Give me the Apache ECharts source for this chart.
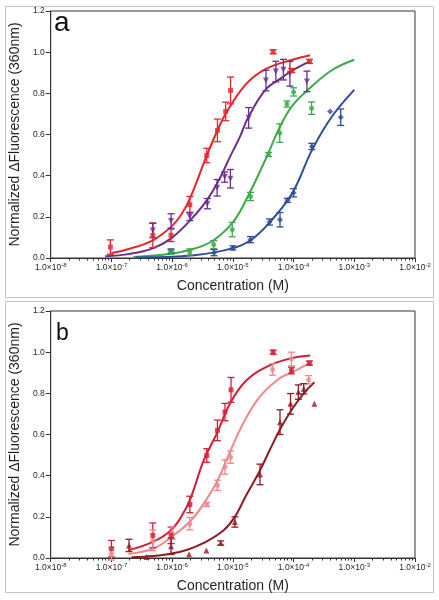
<!DOCTYPE html>
<html><head><meta charset="utf-8">
<script src="https://cdn.jsdelivr.net/npm/echarts@6/dist/echarts.min.js"></script>
<style>html,body{margin:0;padding:0;background:#fff}#c{width:439px;height:600px}</style>
</head><body><div id="c"></div>
<script>
// ---------- tick labels ----------
const xDecades = [1e-8, 1e-7, 1e-6, 1e-5, 1e-4, 1e-3, 1e-2];
const yTicks = [0, 0.2, 0.4, 0.6, 0.8, 1.0, 1.2];
const panelLabels = ['a', 'b'];
const xTitle = 'Concentration (M)';
const yTitle = 'Normalized \u0394Fluorescence (360nm)';

// ---------- panel a data ----------
const aRedX = [9.6e-8, 4.8e-7, 9.6e-7, 1.96e-6, 3.72e-6, 5.57e-6, 7.62e-6, 9.16e-6, 4.61e-5, 9.33e-5, 1.83e-4];
const aRedY = [0.053, 0.11, 0.11, 0.259, 0.498, 0.62, 0.712, 0.814, 1.002, 0.911, 0.955];
const aRedErr = [0.035, 0.06, 0.03, 0.04, 0.035, 0.055, 0.045, 0.065, 0.01, 0.01, 0.01];

const aPurpleX = [4.8e-7, 9.6e-7, 1.95e-6, 3.8e-6, 5.5e-6, 7.33e-6, 9.12e-6, 1.82e-5, 3.51e-5, 5.1e-5, 6.8e-5, 8.7e-5, 1.66e-4];
const aPurpleY = [0.134, 0.18, 0.202, 0.264, 0.341, 0.393, 0.385, 0.681, 0.862, 0.906, 0.915, 0.895, 0.858];
const aPurpleErr = [0.035, 0.035, 0.02, 0.025, 0.04, 0.025, 0.045, 0.05, 0.05, 0.05, 0.05, 0.06, 0.05];

const aGreenX = [9.6e-7, 1.95e-6, 4.84e-6, 9.77e-6, 1.95e-5, 3.87e-5, 5.92e-5, 7.76e-5, 1.0e-4, 1.98e-4];
const aGreenY = [0.029, 0.029, 0.065, 0.138, 0.299, 0.503, 0.607, 0.748, 0.807, 0.728];
const aGreenErr = [0.01, 0.015, 0.02, 0.035, 0.02, 0.01, 0.045, 0.015, 0.02, 0.03];

const aBlueX = [9.6e-7, 4.9e-6, 1.0e-5, 1.95e-5, 4.02e-5, 5.98e-5, 7.94e-5, 1.0e-4, 2.0e-4, 4.0e-4, 5.98e-4];
const aBlueY = [0.034, 0.026, 0.049, 0.089, 0.175, 0.186, 0.28, 0.317, 0.542, 0.712, 0.684];
const aBlueErr = [0.01, 0.015, 0.01, 0.015, 0.015, 0.035, 0.01, 0.02, 0.015, 0, 0.04];

const aRedFitX = [1.0e-7, 2.0e-7, 4.8e-7, 9.5e-7, 1.41e-6, 2.01e-6, 3.72e-6, 5.43e-6, 7.89e-6, 1.66e-5, 3.51e-5, 9.55e-5, 1.87e-4];
const aRedFitY = [0.024, 0.045, 0.086, 0.15, 0.21, 0.296, 0.498, 0.612, 0.709, 0.846, 0.919, 0.963, 0.985];
const aPurpleFitX = [7.9e-8, 2.0e-7, 4.8e-7, 9.5e-7, 2.01e-6, 3.72e-6, 6.17e-6, 8.91e-6, 1.3e-5, 1.77e-5, 3.51e-5, 6.31e-5, 9.55e-5, 1.77e-4];
const aPurpleFitY = [0.008, 0.02, 0.047, 0.094, 0.185, 0.28, 0.39, 0.49, 0.587, 0.68, 0.82, 0.875, 0.911, 0.953];
const aGreenFitX = [2.3e-7, 9.5e-7, 2.29e-6, 4.81e-6, 1.01e-5, 1.77e-5, 3.72e-5, 5.75e-5, 9.55e-5, 1.77e-4, 4.2e-4, 1.0e-3];
const aGreenFitY = [0.005, 0.021, 0.045, 0.086, 0.175, 0.3, 0.5, 0.628, 0.74, 0.82, 0.911, 0.963];
const aBlueFitX = [2.5e-7, 2.29e-6, 1.01e-5, 1.95e-5, 3.98e-5, 9.55e-5, 2.0e-4, 4.2e-4, 1.0e-3];
const aBlueFitY = [0.002, 0.013, 0.048, 0.086, 0.171, 0.316, 0.523, 0.684, 0.817];

// ---------- panel b data ----------
const bRedX = [1.0e-7, 4.8e-7, 9.6e-7, 1.96e-6, 3.72e-6, 5.57e-6, 7.41e-6, 9.33e-6, 4.61e-5, 9.23e-5, 1.83e-4];
const bRedY = [0.045, 0.11, 0.11, 0.26, 0.498, 0.62, 0.709, 0.817, 1.0, 0.911, 0.947];
const bRedErr = [0.04, 0.06, 0.04, 0.04, 0.033, 0.05, 0.042, 0.06, 0.01, 0.016, 0.01];

const bPinkX = [1.0e-7, 4.8e-7, 1.0e-6, 1.95e-6, 3.72e-6, 5.57e-6, 7.41e-6, 9.16e-6, 4.5e-5, 9.23e-5, 1.77e-4];
const bPinkY = [0.02, 0.086, 0.121, 0.167, 0.26, 0.353, 0.442, 0.49, 0.916, 0.967, 0.866];
const bPinkErr = [0.03, 0.05, 0.03, 0.03, 0.01, 0.025, 0.035, 0.03, 0.028, 0.033, 0.02];

const bDarkX = [1.95e-7, 3.8e-7, 9.6e-7, 1.9e-6, 3.66e-6, 6.3e-6, 1.08e-5, 2.8e-5, 5.98e-5, 8.91e-5, 1.2e-4, 1.47e-4, 2.2e-4];
const bDarkY = [0.061, 0.005, 0.057, 0.018, 0.037, 0.073, 0.175, 0.406, 0.66, 0.749, 0.806, 0.822, 0.749];
const bDarkErr = [0.03, 0, 0.04, 0, 0, 0.01, 0.025, 0.05, 0.06, 0.05, 0.035, 0.025, 0];

const bRedFitX = [1.9e-7, 4.8e-7, 9.5e-7, 1.41e-6, 2.01e-6, 3.31e-6, 5.43e-6, 8.95e-6, 1.66e-5, 3.98e-5, 9.55e-5, 1.87e-4];
const bRedFitY = [0.037, 0.078, 0.134, 0.2, 0.29, 0.474, 0.604, 0.749, 0.862, 0.935, 0.972, 0.984];
const bPinkFitX = [1.9e-7, 4.8e-7, 9.5e-7, 2.01e-6, 3.31e-6, 5.43e-6, 8.95e-6, 1.47e-5, 2.74e-5, 5.75e-5, 9.55e-5, 1.87e-4];
const bPinkFitY = [0.02, 0.045, 0.1, 0.18, 0.264, 0.369, 0.515, 0.652, 0.781, 0.871, 0.903, 0.948];
const bDarkFitX = [2.15e-7, 5.0e-7, 9.5e-7, 1.78e-6, 3.31e-6, 6.97e-6, 1.08e-5, 1.66e-5, 2.74e-5, 3.98e-5, 6.12e-5, 9.55e-5, 1.47e-4, 2.2e-4];
const bDarkFitY = [0.004, 0.01, 0.021, 0.04, 0.073, 0.134, 0.2, 0.305, 0.42, 0.52, 0.63, 0.725, 0.8, 0.854];

// ---------- styling ----------
const FONT = 'Liberation Sans, Arial, sans-serif';
const TXT = '#231f20';
const AX = '#333333';
const C = {
  aRed: '#e8242b', aPurple: '#6b2d8f', aGreen: '#3bab4a', aBlue: '#2f4b9c',
  bRed: '#d31f35', bPink: '#f0868e', bDark: '#8e1b22'
};

// log minor tick positions (2..9 x each decade)
const xMinor = [];
for (let i = 0; i < xDecades.length - 1; i++) for (let k = 2; k <= 9; k++) xMinor.push(k * xDecades[i]);

const GRID_TOPS = [11, 311];

function xAxesFor(gi) {
  return [
    {
      type: 'log', logBase: 10, gridIndex: gi, position: 'bottom', min: 1e-8, max: 1e-2,
      name: xTitle, nameLocation: 'middle', nameGap: 21,
      nameTextStyle: { fontFamily: FONT, fontSize: 14, color: TXT },
      axisLine: { show: true, lineStyle: { color: AX, width: 1 } },
      axisTick: { show: true, inside: false, length: 4, customValues: xDecades, lineStyle: { color: AX } },
      axisLabel: {
        customValues: xDecades, margin: 4, showMinLabel: true, showMaxLabel: true,
        formatter: v => '{b|1.0\u00d710}{s|' + Math.round(Math.log10(v)) + '}',
        rich: {
          b: { fontFamily: FONT, fontSize: 8.5, color: TXT, lineHeight: 12 },
          s: { fontFamily: FONT, fontSize: 6, color: TXT, verticalAlign: 'top', lineHeight: 7 }
        }
      },
      splitLine: { show: false }
    },
    {
      type: 'log', logBase: 10, gridIndex: gi, position: 'bottom', min: 1e-8, max: 1e-2,
      axisLine: { show: false }, axisLabel: { show: false },
      axisTick: { show: true, inside: false, length: 2.5, customValues: xMinor, lineStyle: { color: AX } },
      splitLine: { show: false }
    }
  ];
}
function yAxisFor(gi) {
  return {
    type: 'value', gridIndex: gi, min: yTicks[0], max: yTicks[yTicks.length - 1], interval: 0.2,
    name: yTitle, nameLocation: 'middle', nameGap: 26,
    nameTextStyle: { fontFamily: FONT, fontSize: 14, color: TXT },
    axisLine: { show: true, lineStyle: { color: AX, width: 1 } },
    axisTick: { show: true, inside: false, length: 5, lineStyle: { color: AX } },
    axisLabel: { formatter: v => v.toFixed(1), fontFamily: FONT, fontSize: 8.5, color: TXT, margin: 6 },
    splitLine: { show: false }
  };
}

function pts(xs, ys) { return xs.map((x, i) => [x, ys[i]]); }
function fit(xs, ys, color, gi) {
  return { type: 'line', xAxisIndex: gi * 2, yAxisIndex: gi, data: pts(xs, ys), smooth: 0.4,
    showSymbol: false, symbol: 'none', silent: true, z: 2, lineStyle: { color: color, width: 2 } };
}
function errs(xs, ys, es, color, gi) {
  return {
    type: 'custom', xAxisIndex: gi * 2, yAxisIndex: gi, silent: true, z: 3,
    data: xs.map((x, i) => [x, ys[i], es[i]]), encode: { x: 0, y: 1 },
    renderItem: (p, api) => {
      const x = api.value(0), y = api.value(1), e = api.value(2);
      if (!e) return { type: 'group', children: [] };
      const t = api.coord([x, y + e]), b = api.coord([x, y - e]);
      const hw = 3.5, st = { stroke: color, lineWidth: 1.3 };
      return { type: 'group', children: [
        { type: 'line', shape: { x1: t[0], y1: t[1], x2: b[0], y2: b[1] }, style: st },
        { type: 'line', shape: { x1: t[0] - hw, y1: t[1], x2: t[0] + hw, y2: t[1] }, style: st },
        { type: 'line', shape: { x1: b[0] - hw, y1: b[1], x2: b[0] + hw, y2: b[1] }, style: st }
      ] };
    }
  };
}
function marks(xs, ys, color, gi, symbol, size, rot) {
  return { type: 'scatter', xAxisIndex: gi * 2, yAxisIndex: gi, data: pts(xs, ys), symbol: symbol,
    symbolSize: size, symbolRotate: rot || 0, z: 4, silent: true, itemStyle: { color: color } };
}

const series = [
  fit(aRedFitX, aRedFitY, C.aRed, 0), fit(aPurpleFitX, aPurpleFitY, C.aPurple, 0),
  fit(aGreenFitX, aGreenFitY, C.aGreen, 0), fit(aBlueFitX, aBlueFitY, C.aBlue, 0),
  errs(aRedX, aRedY, aRedErr, C.aRed, 0), errs(aPurpleX, aPurpleY, aPurpleErr, C.aPurple, 0),
  errs(aGreenX, aGreenY, aGreenErr, C.aGreen, 0), errs(aBlueX, aBlueY, aBlueErr, C.aBlue, 0),
  marks(aBlueX, aBlueY, C.aBlue, 0, 'diamond', 6), marks(aGreenX, aGreenY, C.aGreen, 0, 'circle', 5),
  marks(aPurpleX, aPurpleY, C.aPurple, 0, 'triangle', 6, 180), marks(aRedX, aRedY, C.aRed, 0, 'rect', 5),

  fit(bRedFitX, bRedFitY, C.bRed, 1), fit(bPinkFitX, bPinkFitY, C.bPink, 1), fit(bDarkFitX, bDarkFitY, C.bDark, 1),
  errs(bRedX, bRedY, bRedErr, C.bRed, 1), errs(bPinkX, bPinkY, bPinkErr, C.bPink, 1), errs(bDarkX, bDarkY, bDarkErr, C.bDark, 1),
  marks(bDarkX, bDarkY, C.bDark, 1, 'triangle', 6), marks(bPinkX, bPinkY, C.bPink, 1, 'circle', 5),
  marks(bRedX, bRedY, C.bRed, 1, 'rect', 5)
];

const chart = echarts.init(document.getElementById('c'), null, { renderer: 'canvas' });
chart.setOption({
  animation: false,
  backgroundColor: '#ffffff',
  textStyle: { fontFamily: FONT },
  grid: GRID_TOPS.map(t => ({ left: 44, top: t, width: 371, height: 247, show: true,
    borderColor: AX, borderWidth: 1, backgroundColor: 'transparent', containLabel: false })),
  xAxis: [...xAxesFor(0), ...xAxesFor(1)],
  yAxis: [yAxisFor(0), yAxisFor(1)],
  series: series,
  graphic: [
    { type: 'rect', shape: { x: 5.5, y: 6.5, width: 428, height: 291 }, style: { fill: 'none', stroke: '#c4c4c4', lineWidth: 1 }, z: -1 },
    { type: 'rect', shape: { x: 5.5, y: 301.5, width: 428, height: 291 }, style: { fill: 'none', stroke: '#c4c4c4', lineWidth: 1 }, z: -1 },
    { type: 'text', x: 54, y: 9, style: { text: panelLabels[0], fontFamily: FONT, fontSize: 28, fill: '#111', verticalAlign: 'top' } },
    { type: 'text', x: 56, y: 322, style: { text: panelLabels[1], fontFamily: FONT, fontSize: 23, fill: '#111', verticalAlign: 'top' } }
  ]
});
</script></body></html>
